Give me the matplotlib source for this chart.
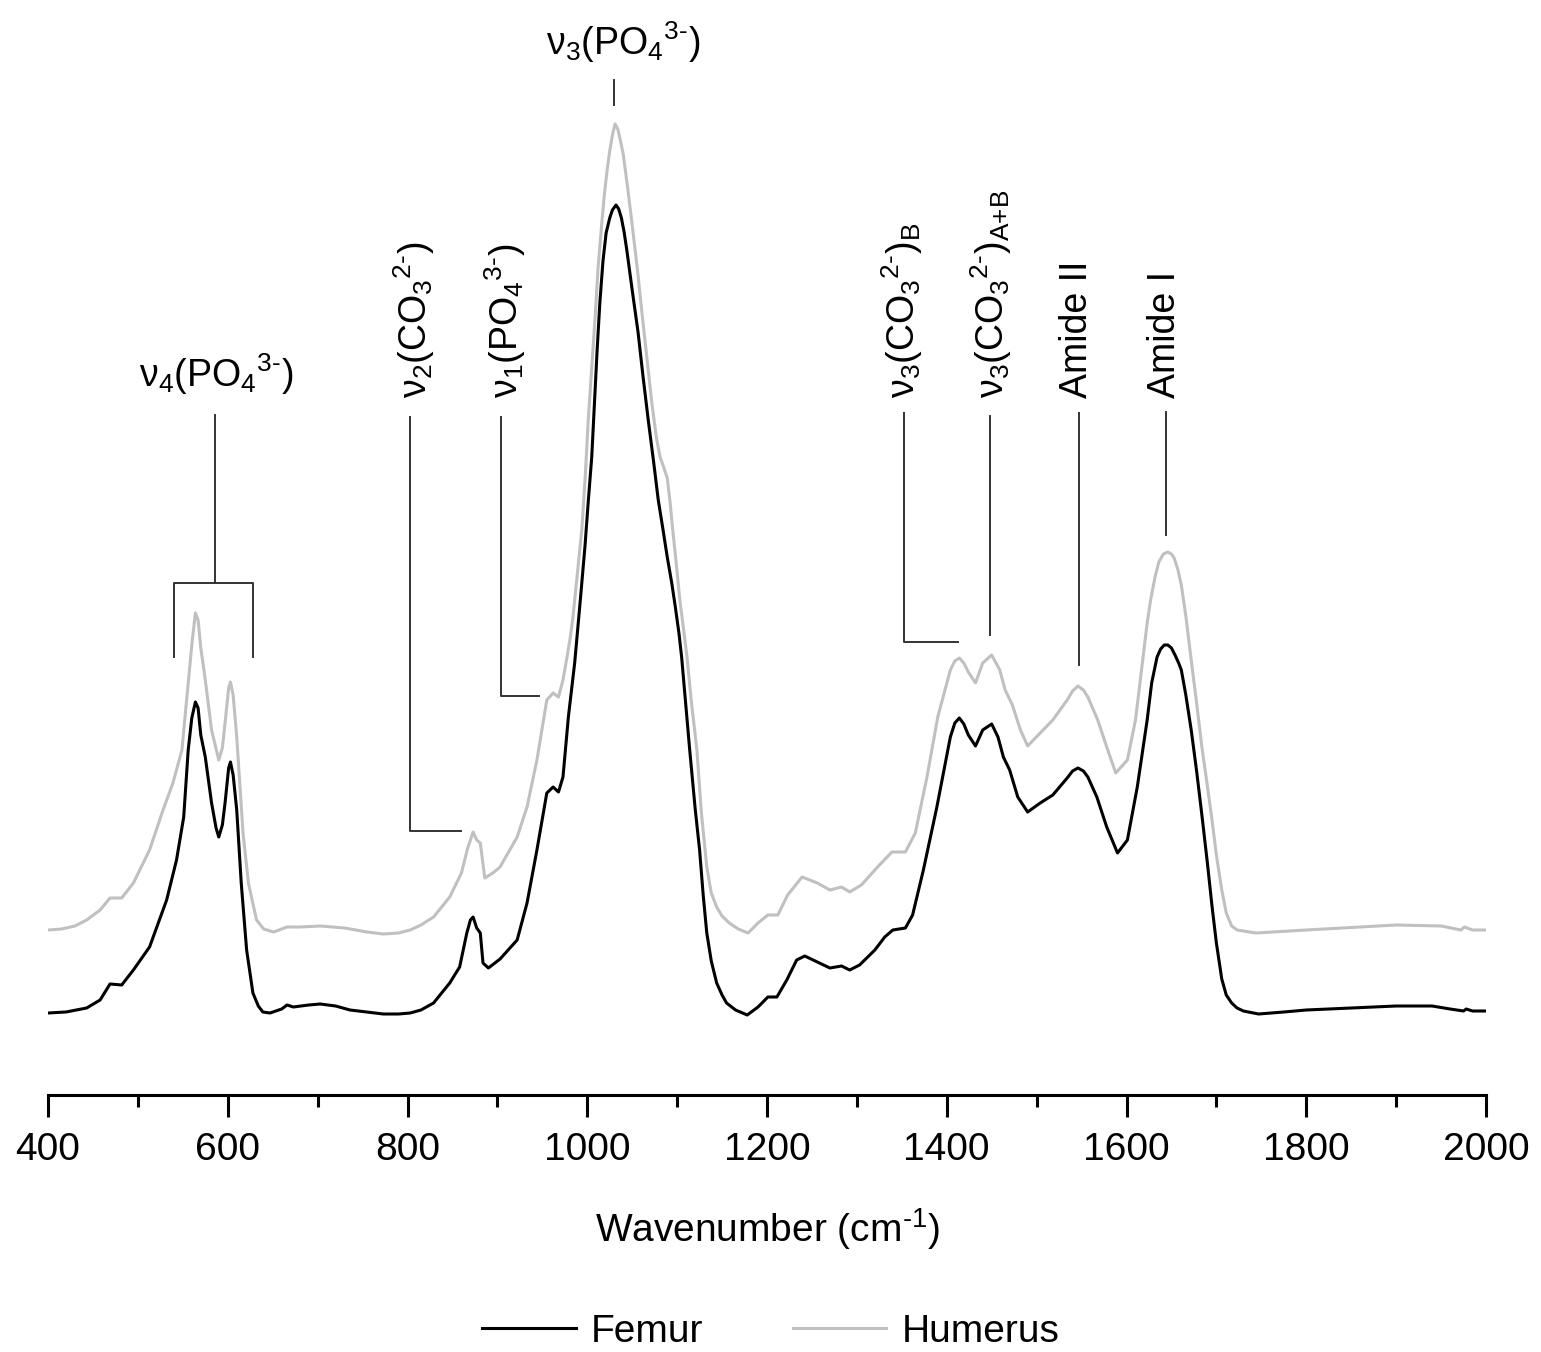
import matplotlib
matplotlib.use('Agg')
import matplotlib.pyplot as plt
from matplotlib.ticker import MultipleLocator
from matplotlib.lines import Line2D

plt.rcParams['font.family'] = ['Liberation Sans', 'DejaVu Sans']
plt.rcParams['mathtext.fontset'] = 'custom'
plt.rcParams['mathtext.rm'] = 'Liberation Sans'
plt.rcParams['mathtext.it'] = 'Liberation Sans:italic'
plt.rcParams['mathtext.bf'] = 'Liberation Sans:bold'

# FTIR spectra, values (arbitrary units, femur baseline = 0)
femur_wn = [400, 420, 443, 458, 469, 482, 495, 513, 532, 543, 551, 556, 560, 564, 567,
            570, 575, 582, 587, 590, 594, 597, 601, 603, 606, 610, 615, 621, 628, 634,
            639, 647, 660, 666, 673, 690, 703, 720, 736, 755, 773, 790, 803, 815, 829,
            847, 858, 866, 870, 873, 877, 881, 884, 890, 903, 922, 933, 944, 955, 962,
            968, 973, 979, 986, 992, 997.5, 1001, 1005, 1008, 1011, 1014, 1017.5, 1021,
            1025, 1028, 1032, 1035, 1038, 1041, 1044, 1050, 1056.5, 1062, 1068, 1074,
            1079, 1084, 1089, 1094, 1098, 1102, 1105, 1110, 1114, 1120, 1125, 1129, 1133,
            1138, 1144, 1150, 1155, 1165, 1178, 1190, 1201, 1211, 1222, 1233, 1242, 1256,
            1270, 1283, 1292, 1303, 1320, 1331, 1340, 1354, 1362, 1374, 1389, 1404, 1409,
            1414, 1419, 1424, 1432, 1440, 1450, 1457, 1463, 1470, 1479, 1490, 1504, 1518,
            1534, 1540, 1546, 1552, 1557, 1567, 1578, 1590, 1601, 1612, 1623, 1628, 1634,
            1638, 1642, 1646, 1650, 1654, 1658, 1661, 1666, 1672, 1678, 1684, 1690, 1695,
            1700, 1706, 1711, 1717, 1723, 1730, 1747, 1775, 1800, 1850, 1900, 1940, 1960,
            1975, 1978, 1985, 2000]
femur_val = [0, 1, 5, 13, 29, 28, 43, 66, 113, 153, 196, 263, 295, 311, 305,
             278, 256, 210, 185, 176, 188, 210, 245, 251, 238, 203, 130, 63, 20, 7,
             1, 0, 4, 8, 6, 8, 9, 7, 3, 1, -1, -1, 0, 3, 10,
             30, 46, 80, 93, 96, 85, 80, 50, 45, 54, 73, 110, 163, 220, 226,
             221, 236, 296, 350, 410, 467, 510, 556, 610, 663, 710, 752, 780,
             795, 803, 808, 804, 795, 781, 763, 723, 681, 637, 592, 550,
             513, 485, 456, 430, 406, 380, 356, 305, 263, 205, 163, 118, 80,
             52, 30, 18, 10, 3, -2, 6, 16, 16, 33, 53, 57, 51,
             45, 47, 43, 48, 63, 76, 83, 85, 98, 143, 206, 276, 290,
             295, 289, 278, 267, 283, 289, 276, 256, 243, 216, 201, 210, 218,
             235, 242, 245, 242, 236, 216, 186, 160, 173, 226, 293, 330, 356,
             364, 368, 368, 365, 358, 350, 343, 318, 283, 242, 197, 150, 108,
             70, 34, 18, 10, 5, 2, -1, 1, 3, 5, 7, 7, 4,
             2, 4, 2, 2]

humerus_wn = [400, 415, 430, 443, 458, 469, 482, 495, 513, 528, 539, 549, 556, 560, 564,
              567, 570, 574, 582, 590, 594, 597, 601, 603, 606, 610, 617, 623, 632, 640,
              651, 660, 666, 680, 703, 730, 755, 773, 790, 803, 815, 829, 847, 860, 867,
              873, 877, 881, 886, 895, 903, 922, 933, 944, 955, 962, 968, 973, 977.5, 981,
              984, 989, 994, 998, 1001, 1005, 1009, 1012, 1016, 1019, 1022, 1025, 1028,
              1031, 1034, 1037, 1040, 1045, 1050, 1056, 1061, 1067, 1072, 1077, 1081, 1085,
              1089, 1092, 1095, 1099, 1103, 1107, 1111, 1116, 1122, 1127, 1133, 1138, 1144,
              1150, 1158, 1168, 1179, 1190, 1201, 1212, 1223, 1239, 1256, 1270, 1283, 1292,
              1305, 1322, 1339, 1354, 1365, 1378, 1390, 1404, 1409, 1414, 1419, 1424, 1432,
              1440, 1450, 1459, 1465, 1473, 1482, 1490, 1504, 1518, 1534, 1540, 1546, 1552,
              1557, 1568, 1578, 1588, 1601, 1610, 1618, 1623, 1627, 1632, 1636, 1641, 1646,
              1650, 1653, 1657, 1661, 1666, 1672, 1678, 1684, 1690, 1695, 1700, 1706, 1711,
              1717, 1723, 1730, 1744, 1800, 1900, 1950, 1972, 1976, 1985, 2000]
humerus_val = [83, 84, 87, 93, 103, 115, 115, 130, 163, 203, 230, 263, 330, 368, 400,
               393, 365, 340, 283, 253, 265, 290, 325, 331, 318, 276, 180, 130, 93, 84,
               81, 84, 86, 86, 87, 85, 81, 79, 80, 83, 88, 96, 116, 140, 165,
               181, 173, 170, 135, 140, 146, 176, 206, 253, 313, 320, 316, 333, 356, 375,
               395, 440, 484, 540, 592, 645, 699, 745, 788, 818, 842, 862, 878,
               889, 884, 872, 859, 825, 788, 742, 699, 650, 609, 575, 556, 546,
               535, 512, 484, 450, 413, 385, 356, 310, 263, 200, 146, 120, 106,
               97, 90, 84, 80, 90, 98, 98, 118, 136, 130, 123, 126, 121,
               128, 145, 161, 161, 180, 236, 296, 343, 352, 355, 350, 341, 330,
               350, 358, 343, 323, 308, 283, 267, 280, 293, 313, 322, 327, 323,
               316, 293, 266, 240, 253, 293, 353, 390, 414, 437, 451, 459, 461,
               459, 455, 444, 428, 397, 353, 310, 265, 227, 194, 158, 123, 100,
               87, 83, 82, 80, 83, 88, 87, 83, 86, 83, 83]

series_names = ['Femur', 'Humerus']
series_colors = ['black', '#c0c0c0']

x_ticks = [400, 600, 800, 1000, 1200, 1400, 1600, 1800, 2000]

# band assignments
label_nu4 = r'ν$_4$(PO$_4$$^{3‐}$)'
label_nu3p = r'ν$_3$(PO$_4$$^{3‐}$)'
label_nu2 = r'ν$_2$(CO$_3$$^{2‐}$)'
label_nu1 = r'ν$_1$(PO$_4$$^{3‐}$)'
label_nu3b = r'ν$_3$(CO$_3$$^{2‐}$)$_\mathrm{B}$'
label_nu3ab = r'ν$_3$(CO$_3$$^{2‐}$)$_{\text{A+B}}$'
label_am2 = 'Amide II'
label_am1 = 'Amide I'

W, H = 1541, 1352
fig = plt.figure(figsize=(W / 100, H / 100), dpi=100)
ax = fig.add_axes([48 / W, 1 - 1095 / H, 1438 / W, (1095 - 20) / H])

ax.plot(humerus_wn, humerus_val, color=series_colors[1], lw=2.2, solid_joinstyle='round')
ax.plot(femur_wn, femur_val, color=series_colors[0], lw=2.2, solid_joinstyle='round')

ax.set_xlim(400, 2000)
ax.set_ylim(-82, 993)

for s in ['top', 'left', 'right']:
    ax.spines[s].set_visible(False)
ax.spines['bottom'].set_linewidth(2.2)
ax.set_yticks([])
ax.set_xticks(x_ticks)
ax.xaxis.set_minor_locator(MultipleLocator(100))
ax.tick_params(axis='x', which='major', direction='out', length=16, width=2.2,
               labelsize=28, pad=11)
ax.tick_params(axis='x', which='minor', direction='out', length=8.5, width=2.2)
ax.set_xlabel('Wavenumber (cm$^{‐1}$)', fontsize=28, labelpad=27)

# annotation lines
lc = '#333333'
lw = 1.4
# nu4 bracket
ax.plot([586, 586], [598, 430], color=lc, lw=lw)
ax.plot([540, 540, 628, 628], [356, 430, 430, 356], color=lc, lw=lw)
# nu3 PO4
ax.plot([1030, 1030], [933, 908], color=lc, lw=lw)
# nu2 CO3
ax.plot([803, 803, 859.5], [596, 182, 182], color=lc, lw=lw)
# nu1 PO4
ax.plot([904, 904, 946], [596, 317, 317], color=lc, lw=lw)
# nu3 CO3 B
ax.plot([1352.4, 1352.4, 1412.5], [600, 371, 371], color=lc, lw=lw)
# nu3 CO3 A+B
ax.plot([1448, 1448], [597, 378], color=lc, lw=lw)
# amide II
ax.plot([1547, 1547], [600, 348], color=lc, lw=lw)
# amide I
ax.plot([1644, 1644], [601, 478], color=lc, lw=lw)

fs = 27
ax.text(587, 626, label_nu4, fontsize=fs, ha='center', va='baseline')
ax.text(1040, 958, label_nu3p, fontsize=fs, ha='center', va='baseline')
for xpos, lab in [(807, label_nu2), (908.5, label_nu1), (1350, label_nu3b),
                  (1449, label_nu3ab), (1545, label_am2), (1643, label_am1)]:
    ax.text(xpos, 615, lab, fontsize=fs, rotation=90, ha='center', va='bottom')

handles = [Line2D([], [], color=c, lw=2.2) for c in series_colors]
fig.legend(handles, series_names, loc='center', bbox_to_anchor=(771 / W, 1 - 1332 / H),
           ncol=2, frameon=False, fontsize=28, handlelength=2.4, handletextpad=0.4,
           columnspacing=2.3)

fig.savefig('out.png', dpi=100)
